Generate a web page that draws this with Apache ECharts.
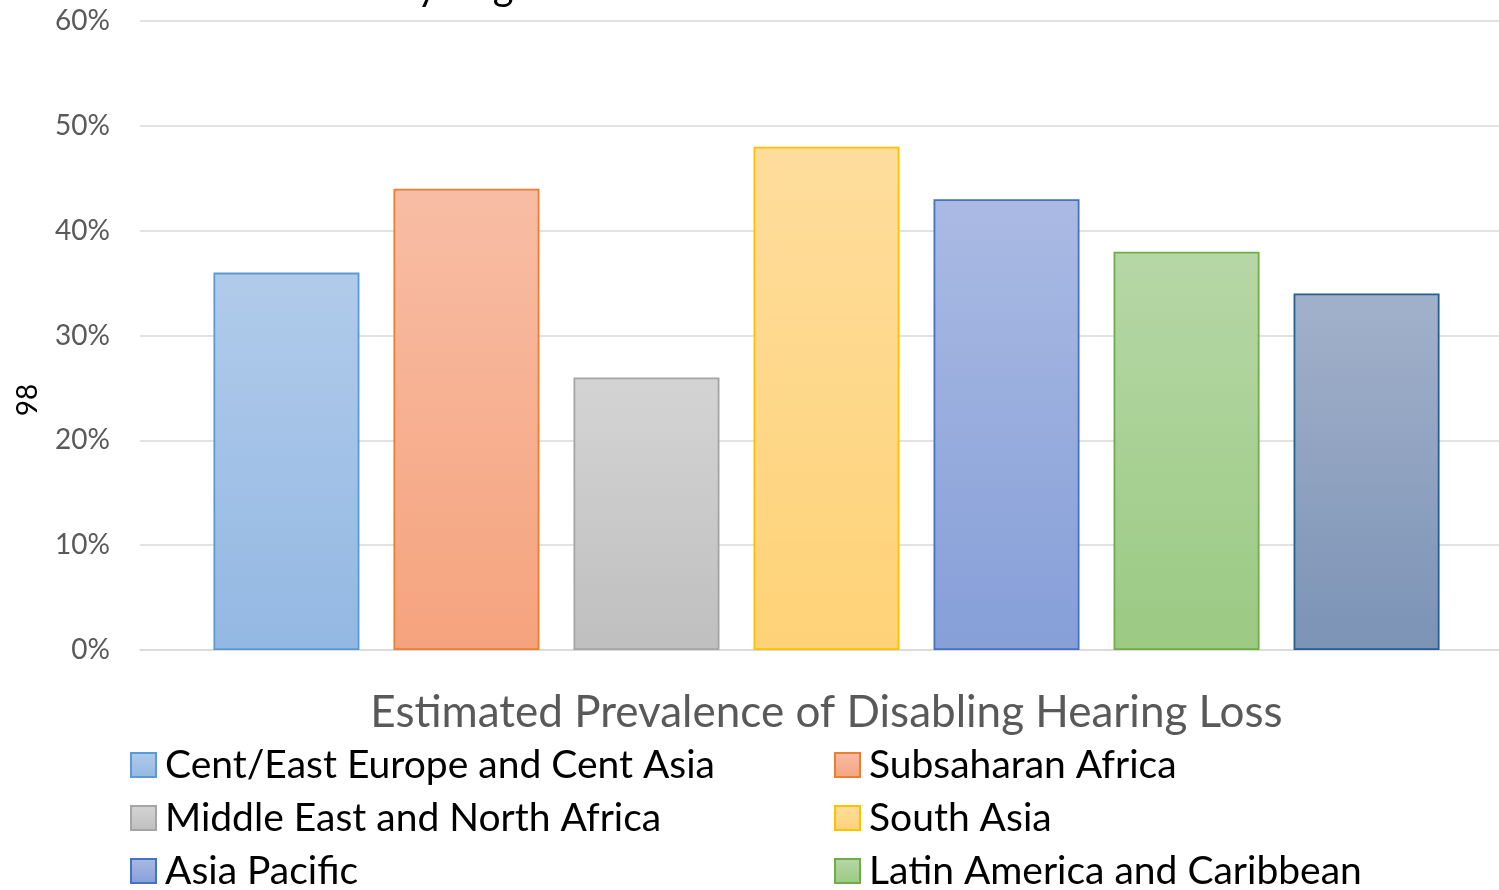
<!DOCTYPE html>
<html>
<head>
<meta charset="utf-8">
<script src="https://cdn.jsdelivr.net/npm/echarts@6/dist/echarts.min.js"></script>
<style>
  html, body { margin: 0; padding: 0; background: #ffffff; }
  #chart { width: 1499px; height: 890px; }
</style>
</head>
<body>
<div id="chart"></div>
<script>
// Prevalence of disabling hearing loss (%) by region
const regions = [
  'Cent/East Europe and Cent Asia',
  'Subsaharan Africa',
  'Middle East and North Africa',
  'South Asia',
  'Asia Pacific',
  'Latin America and Caribbean',
  'East Asia'
];
const prevalence = [36, 44, 26, 48, 43, 38, 34];
const yTicks = [0, 10, 20, 30, 40, 50, 60];
const categoryLabel = [''];

// Fill gradient (top, bottom) and outline per region
const fillTop = ['#b1cbea', '#f8bda5', '#d4d4d4', '#fedd9c', '#aabae3', '#b6d7a6', '#a2b1ca'];
const fillBottom = ['#93b8e3', '#f5a37d', '#bfbfbf', '#fed277', '#869fd8', '#9bca83', '#7c93b6'];
const outline = ['#5b9bd5', '#ed7d31', '#a5a5a5', '#ffc000', '#4472c4', '#70ad47', '#255e91'];

const FONT = 'Lato, "Open Sans", sans-serif';
const Y_MIN = yTicks[0];
const Y_MAX = yTicks[yTicks.length - 1];

const chart = echarts.init(document.getElementById('chart'), null, { renderer: 'canvas' });

// Bars live on the second grid (index 1), the gridlines on the first
const series = regions.map((name, i) => ({
  name: name,
  type: 'bar',
  xAxisIndex: 1,
  yAxisIndex: 1,
  data: [prevalence[i]],
  barWidth: 146,
  barGap: '23.3%',
  itemStyle: {
    color: new echarts.graphic.LinearGradient(0, 0, 0, 1, [
      { offset: 0, color: fillTop[i] },
      { offset: 1, color: fillBottom[i] }
    ]),
    borderColor: outline[i],
    borderWidth: 1.8
  },
  emphasis: { disabled: true }
}));

const legendCommon = {
  orient: 'vertical',
  top: 745,
  height: 400,
  padding: 0,
  itemWidth: 25,
  itemHeight: 24,
  itemGap: 13,
  icon: 'rect',
  selectedMode: false,
  textStyle: {
    fontFamily: FONT,
    fontSize: 39,
    color: '#000000',
    lineHeight: 40,
    padding: [0, 0, 0, 4]
  }
};

chart.setOption({
  animation: false,
  backgroundColor: '#ffffff',
  graphic: [
    {
      type: 'text',
      left: 194,
      top: -33,
      style: {
        text: 'Prevalence by Region',
        fontFamily: FONT,
        fontSize: 40,
        fill: '#000000'
      }
    },
    {
      type: 'text',
      x: 28,
      y: 400,
      rotation: Math.PI / 2,
      style: {
        text: '98',
        fontFamily: FONT,
        fontSize: 28,
        fill: '#000000',
        align: 'center',
        verticalAlign: 'middle'
      }
    }
  ],
  grid: [
    { left: 140, right: 0, top: 21, bottom: 240 },
    { left: 154, right: 0, top: 21, bottom: 240 }
  ],
  legend: [
    Object.assign({}, legendCommon, { left: 130, data: [regions[0], regions[2], regions[4]] }),
    Object.assign({}, legendCommon, { left: 834, data: [regions[1], regions[3], regions[5]] })
  ],
  xAxis: [
    {
      type: 'category',
      gridIndex: 0,
      data: categoryLabel,
      axisLine: { lineStyle: { color: '#d9d9d9', width: 1.5 } },
      axisTick: { show: false },
      axisLabel: { show: false }
    },
    {
      type: 'category',
      gridIndex: 1,
      data: categoryLabel,
      name: 'Estimated Prevalence of Disabling Hearing Loss',
      nameLocation: 'middle',
      nameGap: 41,
      nameTextStyle: { fontFamily: FONT, fontSize: 44, color: '#595959' },
      axisLine: { show: false },
      axisTick: { show: false },
      axisLabel: { show: false }
    }
  ],
  yAxis: [
    {
      type: 'value',
      gridIndex: 0,
      min: Y_MIN,
      max: Y_MAX,
      interval: yTicks[1] - yTicks[0],
      axisLine: { show: false },
      axisTick: { show: false },
      splitLine: { lineStyle: { color: '#d9d9d9', width: 1.5 } },
      axisLabel: {
        formatter: '{value}%',
        fontFamily: FONT,
        fontSize: 28,
        color: '#595959',
        margin: 30
      }
    },
    {
      type: 'value',
      gridIndex: 1,
      min: Y_MIN,
      max: Y_MAX,
      interval: yTicks[1] - yTicks[0],
      show: false,
      splitLine: { show: false }
    }
  ],
  series: series
});
</script>
</body>
</html>
